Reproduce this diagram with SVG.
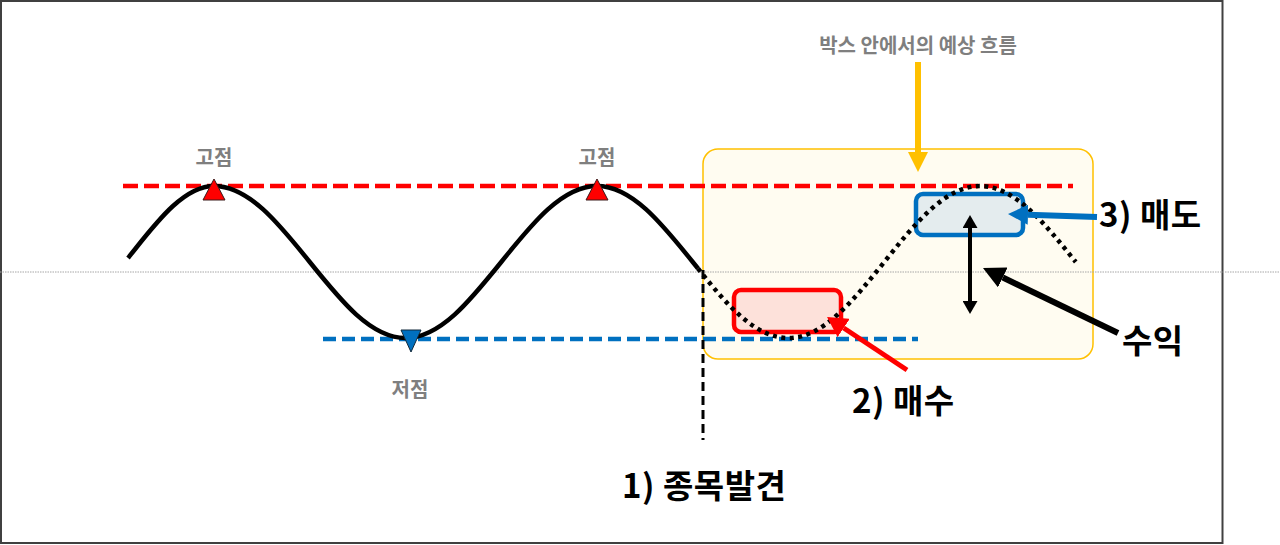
<svg xmlns="http://www.w3.org/2000/svg" width="1280" height="545" viewBox="0 0 1280 545">
  <style>
    .lbl { font-family: "Noto Sans CJK KR", "Noto Sans", sans-serif; font-weight: bold; font-size: 20px; fill: #7F7F7F; text-anchor: middle; }
    .big { font-family: "Noto Sans CJK KR", "Noto Sans", sans-serif; font-weight: bold; font-size: 33px; fill: #000000; letter-spacing: 0.5px; }
    .curve { fill: none; stroke: #000000; stroke-width: 4.5; }
  </style>
  <defs>
    <marker id="headY" markerUnits="userSpaceOnUse" viewBox="0 0 20 20" markerWidth="20" markerHeight="20" refX="0" refY="10" orient="auto">
      <path d="M0,0 L20,10 L0,20 Z" fill="#FFC000"/>
    </marker>
    <marker id="headR" markerUnits="userSpaceOnUse" viewBox="0 0 20 22" markerWidth="20" markerHeight="22" refX="0" refY="11" orient="auto">
      <path d="M0,0 L20,11 L0,22 Z" fill="#FF0000"/>
    </marker>
    <marker id="headB" markerUnits="userSpaceOnUse" viewBox="0 0 20 20" markerWidth="20" markerHeight="20" refX="0" refY="10" orient="auto">
      <path d="M0,0 L20,10 L0,20 Z" fill="#0070C0"/>
    </marker>
    <marker id="headK" markerUnits="userSpaceOnUse" viewBox="0 0 22 22" markerWidth="22" markerHeight="22" refX="0" refY="11" orient="auto">
      <path d="M0,0 L22,11 L0,22 Z" fill="#000000"/>
    </marker>
    <marker id="headKs" markerUnits="userSpaceOnUse" viewBox="0 0 13 15" markerWidth="13" markerHeight="15" refX="0" refY="7.5" orient="auto-start-reverse">
      <path d="M0,0 L13,7.5 L0,15 Z" fill="#000000"/>
    </marker>
  </defs>

  <rect x="0" y="0" width="1280" height="545" fill="#FFFFFF"/>
  <rect id="frame" x="1" y="1" width="1221.5" height="542" fill="none" stroke="#404040" stroke-width="2"/>

  <g id="box-area">
    <rect x="703" y="149" width="390" height="210" rx="15" ry="15" fill="#FFFCF1" stroke="#FFC000" stroke-width="1.5"/>
  </g>

  <g id="guides">
    <line x1="0" y1="272" x2="1280" y2="272" stroke="#A6A6A6" stroke-width="1" stroke-dasharray="1.5 1"/>
    <line x1="123" y1="186" x2="1073" y2="186" stroke="#FF0000" stroke-width="4.5" stroke-dasharray="15 6"/>
    <line x1="323" y1="339" x2="918" y2="339" stroke="#0070C0" stroke-width="4.5" stroke-dasharray="13 6"/>
    <line x1="703" y1="270" x2="703" y2="440" stroke="#000000" stroke-width="3" stroke-dasharray="9 5"/>
  </g>

  <g id="buy-box">
    <rect x="734" y="290" width="107" height="42" rx="7" ry="7" fill="#FDE1DA" stroke="#FF0000" stroke-width="4.5"/>
  </g>
  <g id="sell-box">
    <rect x="916" y="194" width="107" height="41" rx="7" ry="7" fill="#E4ECEE" stroke="#0070C0" stroke-width="4.5"/>
  </g>

  <g id="price-curve">
    <path class="curve" d="M128,258 C153,227 182,186 214,186 C248.6,186 278.5,223.1 309.75,262 C340.95,300.9 370.85,338 405.5,338 C440.1,338 470,300.9 501.25,262 C532.45,223.1 562.35,186 597,186 C631.6,186 661.5,223.1 692.75,262 L698,268.5"/>
    <path class="curve" stroke-dasharray="4 4.5" d="M698,268.5 C727,305 755,338 788.5,338 C823.1,338 853,300.9 884.25,262 C915.45,223.1 945.35,186 980,186 C1014.6,186 1044.5,223.1 1075.75,262"/>
  </g>

  <g id="markers-points">
    <polygon points="214,179 225,200 203,200" fill="#FF0000" stroke="#3A1A1A" stroke-width="1"/>
    <polygon points="597,179 608,200 586,200" fill="#FF0000" stroke="#3A1A1A" stroke-width="1"/>
    <polygon points="401,330 421,330 411,352" fill="#0070C0" stroke="#10283A" stroke-width="1"/>
  </g>

  <g id="connectors">
    <line x1="918" y1="62" x2="918" y2="152" stroke="#FFC000" stroke-width="6" marker-end="url(#headY)"/>
    <line x1="907" y1="370" x2="843.7" y2="328" stroke="#FF0000" stroke-width="5" marker-end="url(#headR)"/>
    <line x1="1097" y1="217" x2="1028" y2="214.7" stroke="#0070C0" stroke-width="6" marker-end="url(#headB)"/>
    <line x1="1118" y1="333" x2="1002.8" y2="277.5" stroke="#000000" stroke-width="6" marker-end="url(#headK)"/>
    <line x1="970" y1="228" x2="970" y2="301" stroke="#000000" stroke-width="4" marker-start="url(#headKs)" marker-end="url(#headKs)"/>
  </g>

  <g id="labels">
    <text class="lbl" x="918" y="53">박스 안에서의 예상 흐름</text>
    <text class="lbl" x="214" y="165">고점</text>
    <text class="lbl" x="597" y="165">고점</text>
    <text class="lbl" x="410" y="397">저점</text>
    <text class="big" x="622" y="498">1) 종목발견</text>
    <text class="big" x="852" y="413">2) 매수</text>
    <text class="big" x="1099" y="227">3) 매도</text>
    <text class="big" x="1122" y="353">수익</text>
  </g>
</svg>
